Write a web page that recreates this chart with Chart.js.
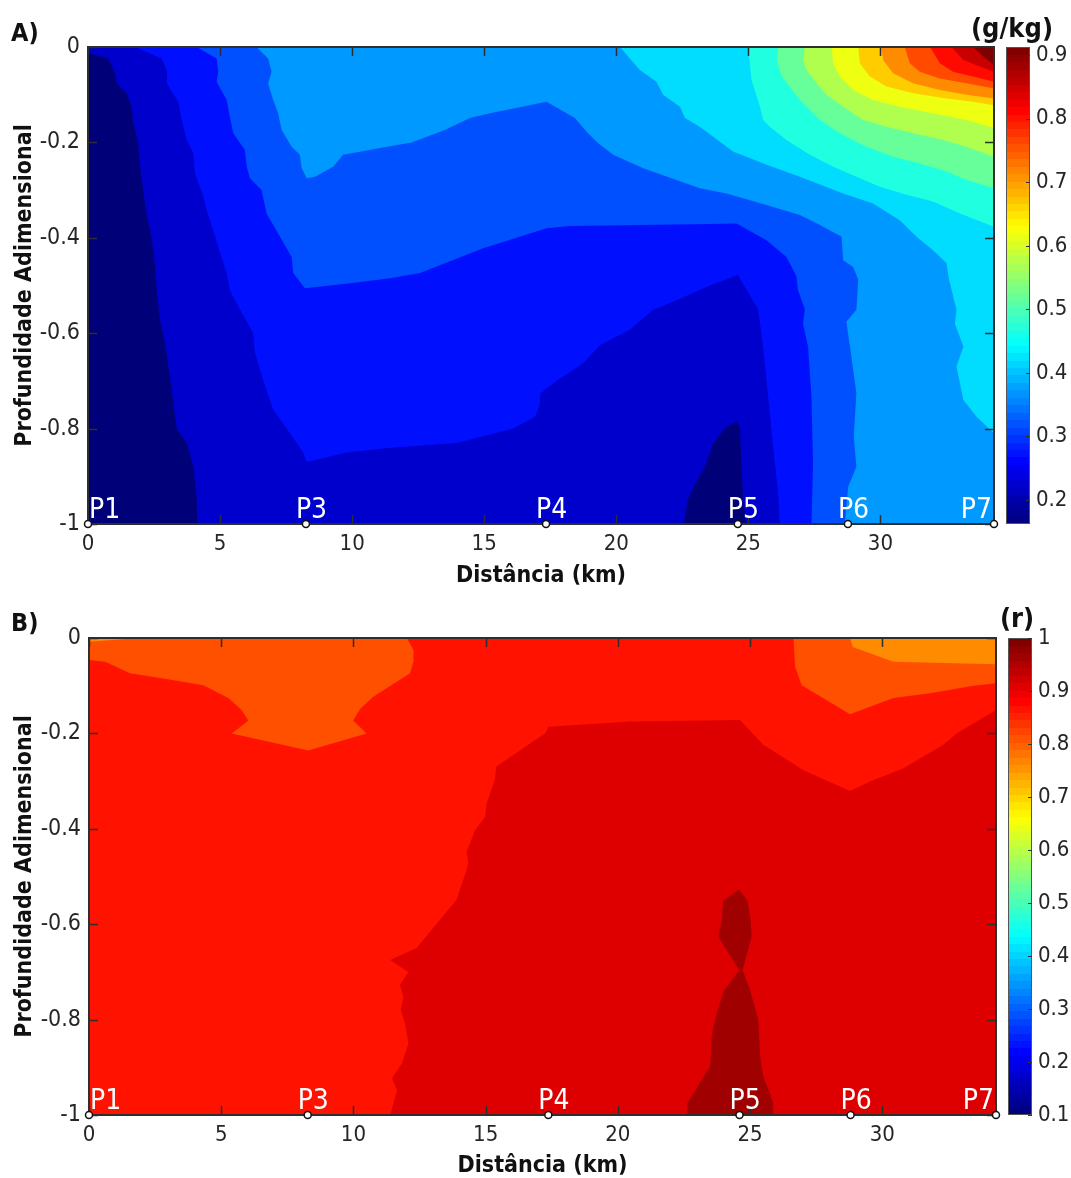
<!DOCTYPE html>
<html><head><meta charset="utf-8">
<script src="https://cdn.jsdelivr.net/npm/chart.js@4.4.1/dist/chart.umd.min.js"></script>
<style>
html,body{margin:0;padding:0;background:#fff;overflow:hidden;}
#wrap{position:relative;width:1071px;height:1178px;overflow:hidden;}
.pane{position:absolute;left:0;width:1071px;}
#pa{top:0;height:595px;}
#pb{top:595px;height:589px;}
</style></head><body>
<div id="wrap">
<div class="pane" id="pa"><canvas id="ca"></canvas></div>
<div class="pane" id="pb"><canvas id="cb"></canvas></div>
</div>
<script>
// ---------------- DATA ----------------
const stationNames = ['P1', 'P3', 'P4', 'P5', 'P6', 'P7'];
const stationKmA = [0, 8.25, 17.34, 24.6, 28.77, 34.3];
const stationKmB = [0, 8.27, 17.37, 24.6, 28.8, 34.3];
const distRange = [0, 34.3];
const depthRange = [-1, 0];
const distStep = 5;
const depthStep = 0.2;

// Panel A: salinity (g/kg) colour-bar range and ticks
const salRange = [0.162, 0.913];
const salTicks = [0.2, 0.3, 0.4, 0.5, 0.6, 0.7, 0.8, 0.9];
// Panel B: correlation (r) colour-bar range and ticks
const corRange = [0.1, 1.0];
const corTicks = [0.1, 0.2, 0.3, 0.4, 0.5, 0.6, 0.7, 0.8, 0.9, 1.0];

// Panel A contour regions (value >= level k), [distance km, depth]
const salBand01 = [[0,0],[34.3,0],[34.3,-1],[0,-1]];
const salBand02 = [[0,0],[0,-0.012],[0.77,-0.024],[1.02,-0.055],[1.09,-0.076],[1.46,-0.097],[1.65,-0.125],[1.72,-0.16],[1.90,-0.20],[1.97,-0.25],[2.09,-0.30],[2.22,-0.35],[2.41,-0.40],[2.54,-0.46],[2.60,-0.51],[2.72,-0.57],[2.91,-0.62],[3.10,-0.69],[3.36,-0.80],[3.74,-0.83],[3.99,-0.88],[4.11,-0.94],[4.14,-1],[22.56,-1],[22.7,-0.95],[23.0,-0.915],[23.35,-0.88],[23.67,-0.831],[24.1,-0.80],[24.55,-0.785],[24.68,-0.796],[24.74,-0.88],[24.8,-0.943],[24.93,-1],[34.3,-1],[34.3,0]];
const salBand03 = [[1.78,0],[2.79,-0.024],[3.0,-0.052],[2.98,-0.076],[3.42,-0.115],[3.55,-0.153],[3.74,-0.195],[3.99,-0.223],[4.05,-0.265],[4.37,-0.314],[4.49,-0.342],[4.74,-0.384],[5.0,-0.432],[5.25,-0.474],[5.37,-0.51],[5.75,-0.55],[6.26,-0.60],[6.32,-0.64],[6.64,-0.70],[7.01,-0.76],[7.65,-0.81],[8.15,-0.85],[8.28,-0.87],[9.79,-0.85],[11.43,-0.84],[13.95,-0.83],[16.1,-0.80],[16.92,-0.775],[17.1,-0.75],[17.13,-0.726],[17.49,-0.71],[17.87,-0.695],[18.75,-0.663],[19.38,-0.625],[20.51,-0.593],[21.4,-0.551],[22.15,-0.534],[23.54,-0.50],[24.6,-0.478],[25.37,-0.55],[25.56,-0.628],[25.75,-0.733],[25.94,-0.838],[26.13,-0.936],[26.19,-1],[34.3,-1],[34.3,0]];
const salBand04 = [[4.11,0],[4.87,-0.024],[4.93,-0.052],[4.87,-0.073],[5.25,-0.111],[5.37,-0.146],[5.5,-0.181],[5.94,-0.216],[6.01,-0.251],[6.13,-0.275],[6.57,-0.30],[6.76,-0.349],[7.27,-0.398],[7.71,-0.44],[7.77,-0.474],[8.21,-0.506],[10.0,-0.495],[11.43,-0.485],[12.57,-0.474],[14.96,-0.422],[17.36,-0.38],[18.24,-0.375],[23.54,-0.371],[24.55,-0.37],[25.69,-0.405],[26.44,-0.44],[26.82,-0.48],[26.88,-0.51],[27.14,-0.55],[27.07,-0.58],[27.26,-0.628],[27.39,-0.733],[27.45,-0.873],[27.39,-1],[34.3,-1],[34.3,0]];
const salBand05 = [[6.38,0],[6.82,-0.024],[6.95,-0.052],[6.82,-0.076],[7.01,-0.111],[7.2,-0.139],[7.33,-0.174],[7.71,-0.209],[8.02,-0.226],[8.09,-0.254],[8.28,-0.275],[8.59,-0.272],[9.28,-0.251],[9.66,-0.226],[11.43,-0.208],[12.25,-0.20],[13.51,-0.174],[14.46,-0.149],[15.22,-0.139],[17.36,-0.115],[18.43,-0.149],[18.93,-0.181],[19.32,-0.202],[19.88,-0.226],[21.02,-0.254],[22.28,-0.279],[23.16,-0.296],[24.17,-0.307],[25.69,-0.331],[26.95,-0.352],[27.71,-0.373],[28.53,-0.398],[28.59,-0.447],[28.97,-0.461],[29.16,-0.488],[29.09,-0.551],[28.71,-0.576],[28.9,-0.649],[29.09,-0.726],[28.99,-0.817],[29.09,-0.88],[28.78,-0.922],[28.65,-1],[34.3,-1],[34.3,0]];
const salBand06 = [[20.14,0],[20.89,-0.048],[21.52,-0.073],[21.77,-0.10],[22.41,-0.125],[22.6,-0.149],[23.16,-0.167],[23.67,-0.188],[24.42,-0.219],[25.69,-0.247],[26.95,-0.272],[28.59,-0.307],[29.72,-0.328],[30.73,-0.363],[31.37,-0.398],[31.99,-0.426],[32.5,-0.453],[32.6,-0.488],[32.88,-0.551],[32.82,-0.58],[33.14,-0.628],[32.88,-0.67],[33.14,-0.74],[33.64,-0.775],[34.3,-0.81],[34.3,0]];
const salBand07 = [[24.99,0],[25.12,-0.069],[25.44,-0.125],[25.56,-0.153],[25.81,-0.167],[26.44,-0.195],[27.33,-0.226],[28.21,-0.251],[29.09,-0.272],[29.98,-0.293],[30.99,-0.31],[31.99,-0.324],[33.01,-0.349],[34.3,-0.377],[34.3,0]];
const salBand08 = [[26.13,0],[26.07,-0.027],[26.26,-0.062],[26.95,-0.111],[27.71,-0.153],[28.46,-0.181],[29.47,-0.209],[30.48,-0.23],[31.49,-0.244],[32.5,-0.261],[33.26,-0.279],[34.3,-0.296],[34.3,0]];
const salBand09 = [[27.14,0],[27.07,-0.027],[27.2,-0.048],[27.58,-0.076],[27.96,-0.10],[28.59,-0.125],[29.35,-0.153],[30.23,-0.167],[31.24,-0.181],[32.37,-0.195],[33.26,-0.209],[34.3,-0.23],[34.3,0]];
const salBand10 = [[28.15,0],[28.21,-0.034],[28.46,-0.062],[28.97,-0.09],[29.72,-0.111],[30.73,-0.125],[31.99,-0.139],[33.26,-0.153],[34.3,-0.17],[34.3,0]];
const salBand11 = [[29.16,0],[29.22,-0.034],[29.6,-0.062],[30.23,-0.083],[31.24,-0.097],[32.5,-0.108],[33.51,-0.115],[34.3,-0.122],[34.3,0]];
const salBand12 = [[30.04,0],[30.1,-0.027],[30.48,-0.055],[31.24,-0.076],[32.25,-0.09],[33.26,-0.10],[34.3,-0.108],[34.3,0]];
const salBand13 = [[30.92,0],[31.11,-0.034],[31.49,-0.052],[32.25,-0.066],[33.26,-0.076],[34.3,-0.087],[34.3,0]];
const salBand14 = [[31.88,0],[32.25,-0.034],[32.75,-0.052],[33.51,-0.062],[34.3,-0.073],[34.3,0]];
const salBand15 = [[32.69,0],[33.14,-0.027],[33.77,-0.041],[34.3,-0.052],[34.3,0]];
const salBand16 = [[33.51,0],[33.89,-0.02],[34.3,-0.038],[34.3,0]];

// Panel B contour regions (value >= level k)
const corBand1 = [[0,0],[34.3,0],[34.3,-1],[0,-1]];
const corBand2 = [[0,-0.008],[1.9,0],[28.78,0],[28.88,-0.019],[30.42,-0.05],[34.3,-0.055],[34.3,-1],[0,-1]];
const corBand3 = [[0,-0.046],[0.61,-0.050],[1.55,-0.074],[2.81,-0.085],[4.32,-0.099],[5.27,-0.126],[5.77,-0.151],[6.03,-0.173],[5.40,-0.20],[8.29,-0.236],[10.5,-0.20],[9.99,-0.173],[10.25,-0.149],[10.75,-0.123],[12.14,-0.074],[12.29,-0.046],[12.27,-0.025],[12.02,0],[26.64,0],[26.7,-0.06],[26.95,-0.099],[28.78,-0.16],[30.42,-0.126],[31.81,-0.116],[33.45,-0.10],[34.3,-0.095],[34.3,-1],[0,-1]];
const corBand4 = [[11.39,-1],[11.65,-0.948],[11.46,-0.923],[11.83,-0.892],[12.08,-0.85],[11.95,-0.808],[11.79,-0.78],[11.89,-0.752],[11.76,-0.727],[12.08,-0.70],[11.39,-0.675],[12.39,-0.65],[13.9,-0.549],[14.28,-0.486],[14.34,-0.472],[14.28,-0.448],[14.6,-0.403],[14.98,-0.375],[15.04,-0.347],[15.34,-0.298],[15.4,-0.27],[16.68,-0.221],[17.25,-0.20],[17.38,-0.186],[20.46,-0.175],[24.62,-0.172],[25.5,-0.224],[27.02,-0.277],[28.78,-0.321],[29.54,-0.301],[30.8,-0.273],[32.31,-0.224],[32.81,-0.20],[34.3,-0.151],[34.3,-1]];
const corBand5 = [[22.63,-1],[22.63,-0.975],[23.49,-0.898],[23.55,-0.835],[23.67,-0.80],[23.99,-0.741],[24.6,-0.696],[24.27,-0.668],[23.8,-0.626],[23.93,-0.591],[23.98,-0.551],[24.59,-0.527],[24.9,-0.551],[25.02,-0.591],[25.06,-0.626],[24.72,-0.696],[25.0,-0.738],[25.31,-0.80],[25.38,-0.877],[25.5,-0.919],[25.88,-0.975],[25.86,-1]];

const salBands = [salBand01, salBand02, salBand03, salBand04, salBand05, salBand06, salBand07, salBand08,
                  salBand09, salBand10, salBand11, salBand12, salBand13, salBand14, salBand15, salBand16];
const corBands = [corBand1, corBand2, corBand3, corBand4, corBand5];

// ---------------- STYLE ----------------
const salColors = ['#000078', '#0000CD', '#0010FF', '#0050FF', '#0099FF', '#00DDFF', '#20FFDF', '#66FF99',
                   '#B0FF4F', '#EEFF11', '#FFCC00', '#FF8C00', '#FF4A00', '#FF0A00', '#C80000', '#800000'];
const corColors = ['#FF8C00', '#FF5000', '#FF1200', '#DE0000', '#A00000'];
const FAM = "'DejaVu Sans Condensed', 'DejaVu Sans', sans-serif";
const INK = '#262626';

function jet(t) {
  const c = v => Math.round(255 * Math.max(0, Math.min(1, v)));
  return `rgb(${c(1.5 - Math.abs(4 * t - 3))},${c(1.5 - Math.abs(4 * t - 2))},${c(1.5 - Math.abs(4 * t - 1))})`;
}

function decoPlugin(P) {
  return {
    id: 'deco',
    beforeDatasetDraw(chart, args) {
      if (args.index !== P.bands.length) return;
      const ctx = chart.ctx, ca = chart.chartArea, xs = chart.scales.x, ys = chart.scales.y;
      ctx.save();
      ctx.strokeStyle = '#2e2e2e';
      ctx.lineWidth = 1.5;
      const tl = 9;
      ctx.beginPath();
      xs.ticks.forEach(t => {
        const px = Math.round(xs.getPixelForValue(t.value)) + 0.5;
        ctx.moveTo(px, ca.bottom); ctx.lineTo(px, ca.bottom - tl);
        ctx.moveTo(px, ca.top); ctx.lineTo(px, ca.top + tl);
      });
      ys.ticks.forEach(t => {
        const py = Math.round(ys.getPixelForValue(t.value)) + 0.5;
        ctx.moveTo(ca.left, py); ctx.lineTo(ca.left + tl, py);
        ctx.moveTo(ca.right, py); ctx.lineTo(ca.right - tl, py);
      });
      ctx.stroke();
      ctx.lineWidth = 2;
      ctx.strokeRect(ca.left, ca.top, ca.right - ca.left, ca.bottom - ca.top);
      ctx.restore();
    },
    afterDatasetsDraw(chart) {
      const ctx = chart.ctx, ca = chart.chartArea, xs = chart.scales.x;
      ctx.save();
      ctx.font = '28px ' + FAM;
      ctx.fillStyle = '#ffffff';
      ctx.textBaseline = 'alphabetic';
      P.stations.forEach((km, i) => {
        const name = stationNames[i];
        const w = ctx.measureText(name).width;
        let px = xs.getPixelForValue(km) - 10;
        px = Math.max(ca.left + 1, Math.min(ca.right - w - 2, px));
        ctx.fillText(name, px, ca.bottom - 6);
      });
      ctx.restore();
    },
    afterDraw(chart) {
      const ctx = chart.ctx, ca = chart.chartArea, cs = chart.scales.cbar;
      ctx.save();
      const x0 = ca.right + 12, w = 24;
      const n = 64;
      for (let i = 0; i < n; i++) {
        const v0 = P.cbRange[0] + (P.cbRange[1] - P.cbRange[0]) * i / n;
        const v1 = P.cbRange[0] + (P.cbRange[1] - P.cbRange[0]) * (i + 1) / n;
        const y0 = cs.getPixelForValue(v0), y1 = cs.getPixelForValue(v1);
        ctx.fillStyle = jet(i / (n - 1));
        ctx.fillRect(x0, Math.floor(y1), w, Math.ceil(y0) - Math.floor(y1));
      }
      ctx.strokeStyle = '#555';
      ctx.lineWidth = 1;
      ctx.strokeRect(x0 + 0.5, ca.top + 0.5, w - 1, ca.bottom - ca.top - 1);
      ctx.strokeStyle = '#333';
      ctx.beginPath();
      P.cbTicks.forEach(v => {
        const py = Math.round(cs.getPixelForValue(v)) + 0.5;
        ctx.moveTo(x0 + w - 4, py); ctx.lineTo(x0 + w, py);
      });
      ctx.stroke();
      ctx.fillStyle = INK;
      ctx.font = '22px ' + FAM;
      ctx.textAlign = 'left';
      ctx.textBaseline = 'middle';
      P.cbTicks.forEach(v => {
        ctx.fillText(String(Math.round(v * 10) / 10), x0 + w + 6, cs.getPixelForValue(v));
      });
      ctx.fillStyle = '#111';
      ctx.font = 'bold 27px ' + FAM;
      ctx.textAlign = 'center';
      ctx.fillText(P.cbTitle, P.cbTitleX, P.cbTitleY);
      ctx.font = 'bold 25px ' + FAM;
      ctx.textAlign = 'left';
      ctx.fillText(P.panel, 11, P.panelY);
      ctx.restore();
    }
  };
}

function buildChart(canvasId, P) {
  const datasets = P.bands.map((band, i) => ({
    label: 'level ' + (i + 1),
    data: band.map(([x, y]) => ({x, y})),
    showLine: true,
    fill: 'shape',
    backgroundColor: P.colors[i],
    borderColor: P.colors[i],
    borderWidth: 0,
    pointRadius: 0,
    pointHoverRadius: 0,
    tension: 0,
    order: 100 - i
  }));
  datasets.push({
    label: 'stations',
    data: P.stations.map(x => ({x, y: depthRange[0]})),
    showLine: false,
    pointRadius: 3.5,
    pointBorderWidth: 1.5,
    pointBackgroundColor: '#ffffff',
    pointBorderColor: '#111111',
    clip: false,
    order: 0
  });
  return new Chart(document.getElementById(canvasId), {
    type: 'scatter',
    data: {datasets},
    plugins: [decoPlugin(P)],
    options: {
      responsive: true,
      maintainAspectRatio: false,
      animation: false,
      events: [],
      layout: {padding: {top: P.top, right: P.right, left: 0, bottom: 0}},
      plugins: {legend: {display: false}, tooltip: {enabled: false}},
      scales: {
        x: {
          type: 'linear', position: 'bottom', min: distRange[0], max: distRange[1],
          afterFit: s => { s.height = P.xAxisH; },
          grid: {display: false, drawTicks: false},
          border: {display: false},
          ticks: {stepSize: distStep, includeBounds: false, autoSkip: false, maxRotation: 0, padding: 7,
                  color: INK, font: {family: FAM, size: 22}, callback: v => String(v)},
          title: {display: true, text: 'Distância (km)', color: '#111', font: {family: FAM, size: 23, weight: 'bold'},
                  padding: {top: 0, bottom: P.xTitlePad}}
        },
        y: {
          type: 'linear', position: 'left', min: depthRange[0], max: depthRange[1],
          afterFit: s => { s.width = P.left; },
          grid: {display: false, drawTicks: false},
          border: {display: false},
          ticks: {stepSize: depthStep, autoSkip: false, padding: 8, color: INK, font: {family: FAM, size: 23},
                  callback: v => String(Math.round(v * 10) / 10)},
          title: {display: true, text: 'Profundidade Adimensional', color: '#111', font: {family: FAM, size: 23, weight: 'bold'},
                  padding: {top: 11, bottom: 0}}
        },
        cbar: {type: 'linear', position: 'right', display: false, min: P.cbRange[0], max: P.cbRange[1]}
      }
    }
  });
}

buildChart('ca', {
  bands: salBands, colors: salColors, stations: stationKmA,
  cbRange: salRange, cbTicks: salTicks, cbTitle: '(g/kg)', cbTitleX: 1012, cbTitleY: 30,
  panel: 'A)', panelY: 34,
  top: 47, right: 77, left: 88, xAxisH: 71, xTitlePad: 5
});
buildChart('cb', {
  bands: corBands, colors: corColors, stations: stationKmB,
  cbRange: corRange, cbTicks: corTicks, cbTitle: '(r)', cbTitleX: 1017, cbTitleY: 25,
  panel: 'B)', panelY: 29,
  top: 43, right: 75, left: 89, xAxisH: 69, xTitlePad: 4
});
</script>
</body></html>
